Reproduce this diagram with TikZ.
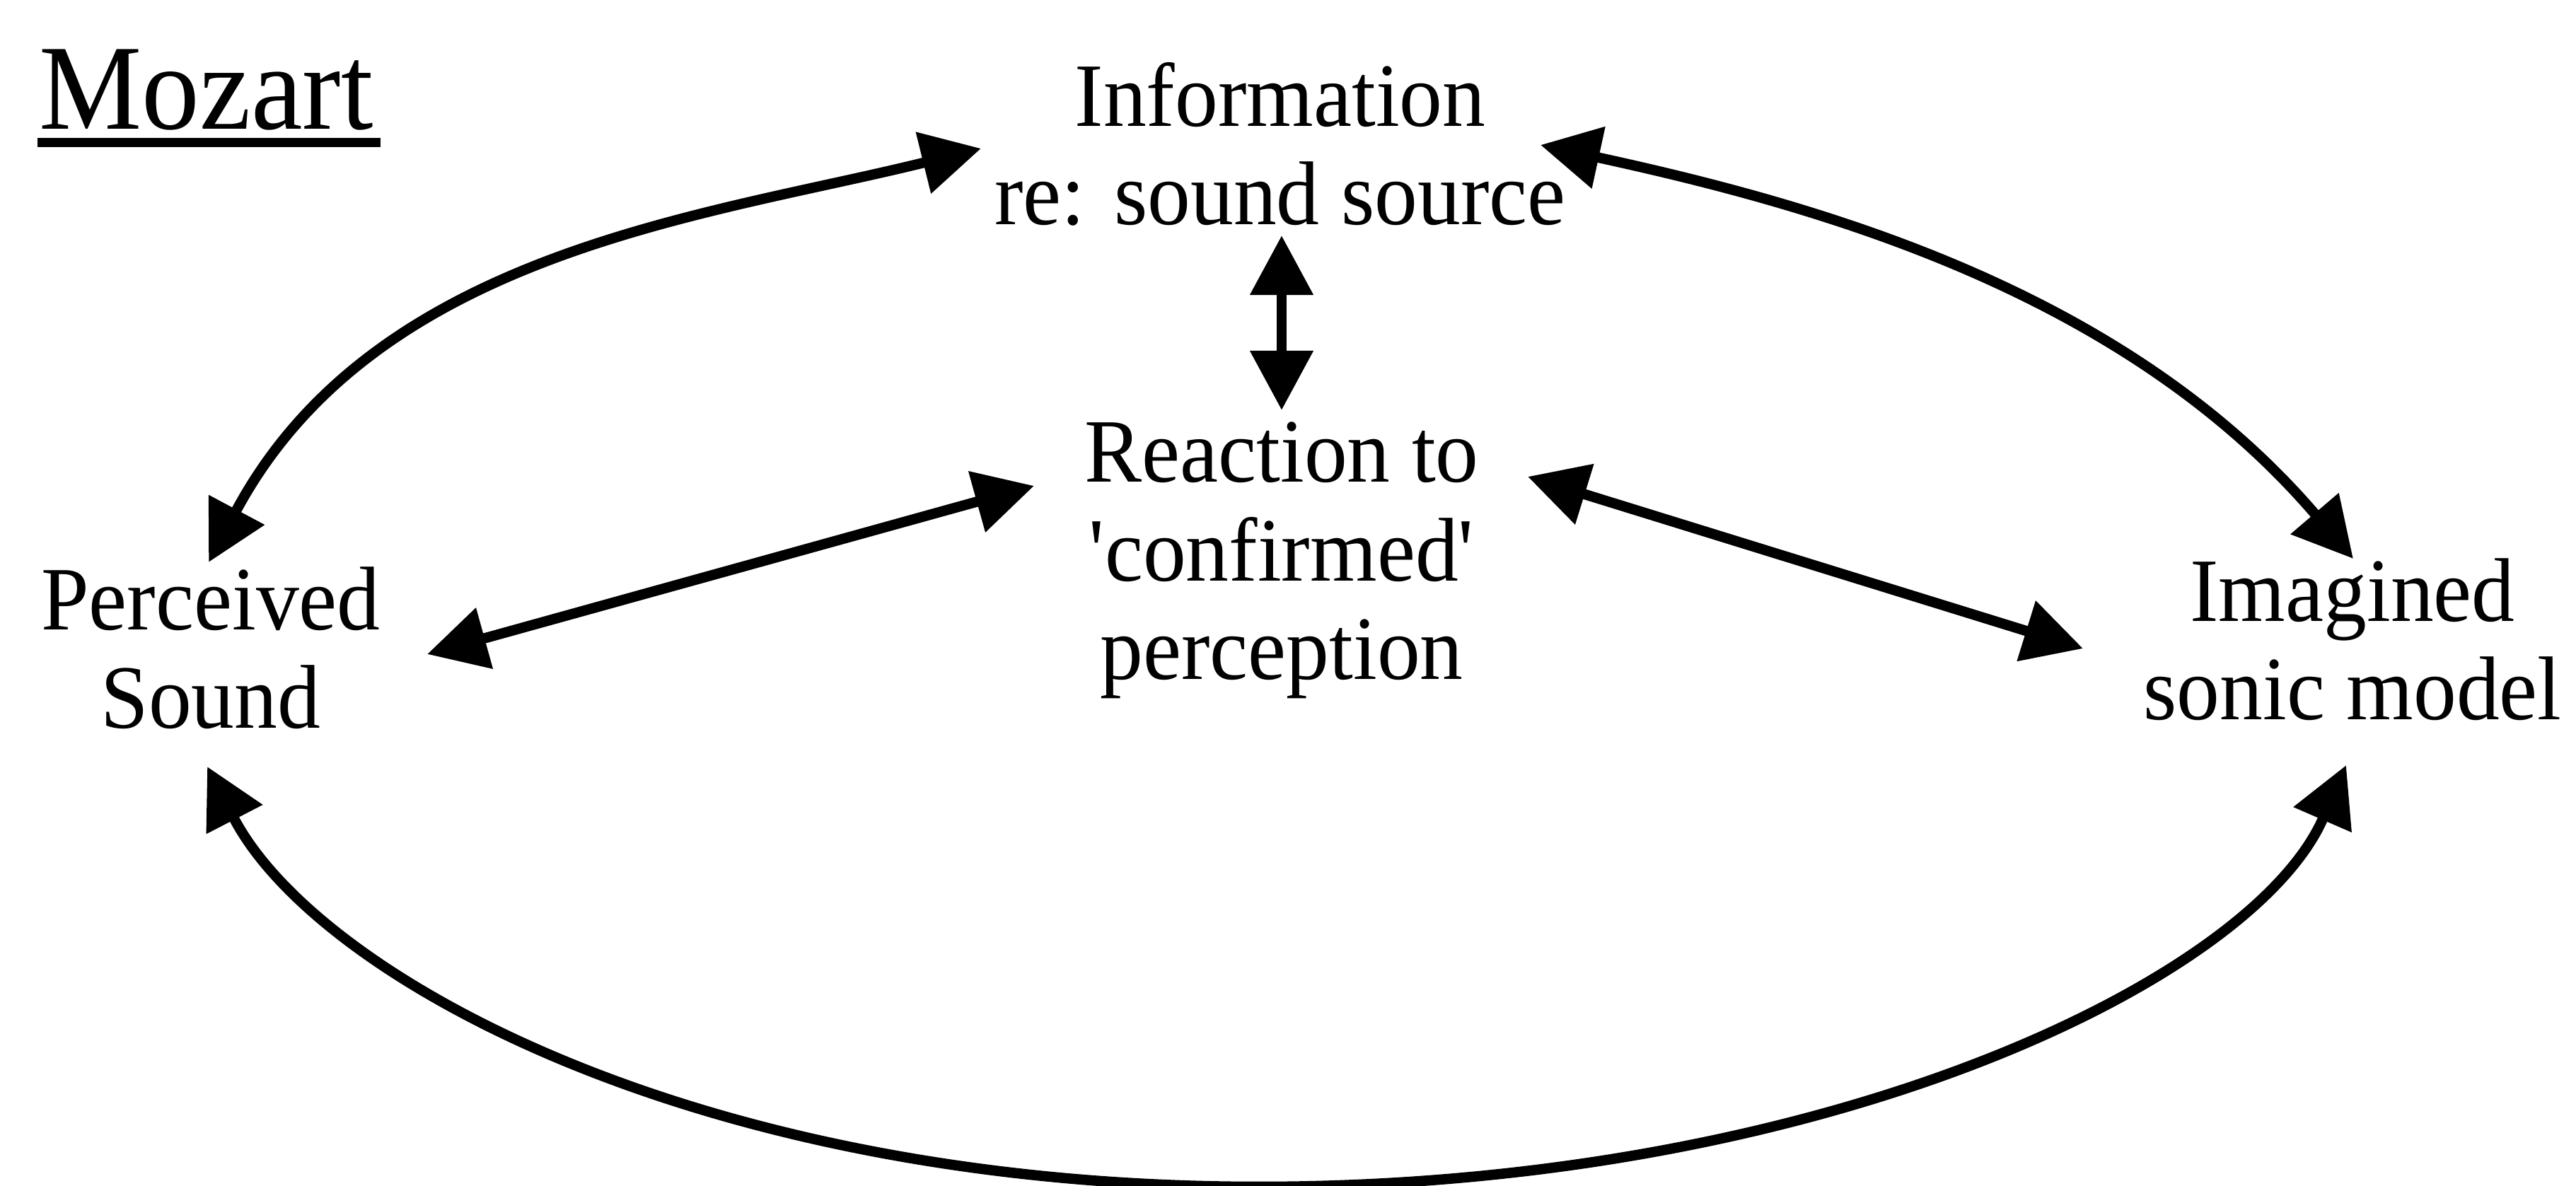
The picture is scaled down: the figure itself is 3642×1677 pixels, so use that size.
\documentclass[tikz,border=0pt]{standalone}
\usepackage{fontspec}
\setmainfont{Liberation Serif}[FakeStretch=0.95]
\usetikzlibrary{arrows.meta,calc}

\begin{document}
\begin{tikzpicture}[x=0.01cm,y=-0.01cm,
  lbl/.style={inner sep=0pt, align=center, anchor=base,
    font=\fontsize{36.4pt}{39.8pt}\selectfont},
  ttl/.style={inner sep=0pt, anchor=base west,
    font=\fontsize{48.9pt}{52pt}\selectfont},
  link/.style={line width=0.145cm, {Triangle[length=0.84cm,width=0.86cm]}-{Triangle[length=0.84cm,width=0.86cm]}}]

% page
\fill[white] (0,0) rectangle (3642,1677);
\useasboundingbox (0,0) rectangle (3642,1677);

% title
\node[ttl] (mozart) at (55,183) {Mozart};
\draw[line width=0.13cm] ($(mozart.base west)+(-2,19)$) -- ($(mozart.base east)+(10,19)$);

% labels (placed by the baseline of their last line)
\node[lbl] (info)  at (1810,318)  {Information\\re: sound source};
\node[lbl] (react) at (1812,961)  {Reaction to\\\textquotesingle confirmed\textquotesingle\\perception};
\node[lbl] (perc)  at (298,1030)  {Perceived\\Sound};
\node[lbl] (imag)  at (3326,1018) {Imagined\\sonic model};

% arrow end points
\coordinate (tlA) at (295,795);
\coordinate (tlB) at (1387,210);
\coordinate (trC) at (2178,205);
\coordinate (trD) at (3327,790);
\coordinate (blG) at (293,1084);
\coordinate (brH) at (3317,1082);
\coordinate (bot) at (1780,1678);
\coordinate (lE)  at (604,925);
\coordinate (lF)  at (1462,687);
\coordinate (rK)  at (2160,674);
\coordinate (rL)  at (2945,917);
\coordinate (vT)  at (1812,333);
\coordinate (vB)  at (1812,580);

% connectors
\draw[link] (tlA) .. controls (530,355) and (999,306) .. (tlB);
\draw[link] (trC) .. controls (2569,290) and (3002,410) .. (trD);
\draw[link] (blG) .. controls (445,1378) and (980,1678) .. (bot)
                  .. controls (2580,1678) and (3185,1386) .. (brH);
\draw[link] (lE) -- (lF);
\draw[link] (rK) -- (rL);
\draw[link] (vT) -- (vB);
\end{tikzpicture}
\end{document}
